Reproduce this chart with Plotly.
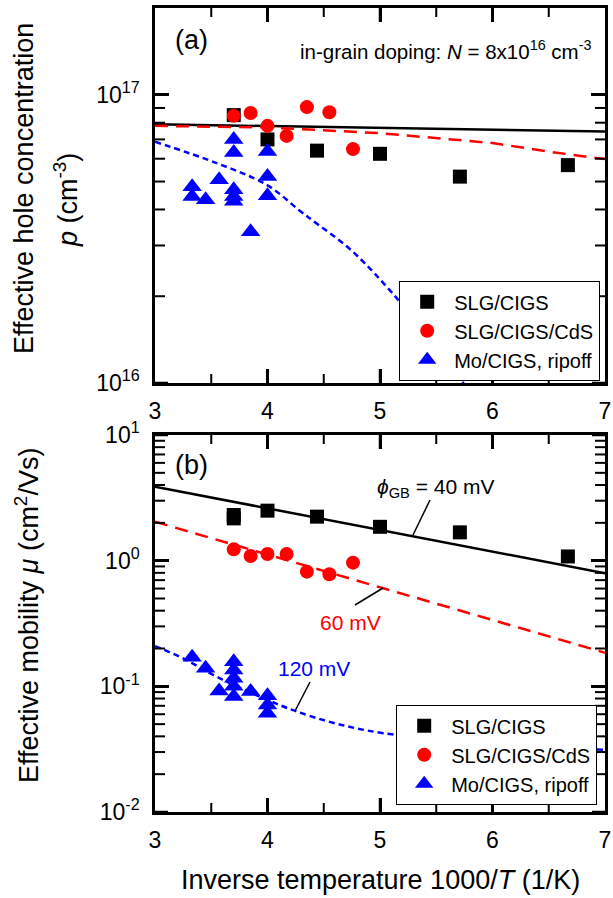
import plotly.graph_objects as go

# ---------------- data ----------------
# (a) effective hole concentration
a_slg_x = [3.70, 4.00, 4.44, 5.00, 5.71, 6.67]
a_slg_p = [8.5e16, 7.0e16, 6.4e16, 6.24e16, 5.2e16, 5.7e16]
a_cds_x = [3.70, 3.85, 4.00, 4.17, 4.35, 4.55, 4.76]
a_cds_p = [8.45e16, 8.64e16, 7.8e16, 7.2e16, 9.06e16, 8.7e16, 6.48e16]
a_mo_x = [3.33, 3.33, 3.45, 3.57, 3.70, 3.70, 3.70, 3.70, 3.70, 3.85, 4.00, 4.00, 4.00]
a_mo_p = [4.8e16, 4.44e16, 4.32e16, 5.07e16, 7.0e16, 6.3e16, 4.68e16, 4.44e16, 4.27e16, 3.35e16, 6.36e16, 5.2e16, 4.46e16]

a_fit_slg_x = [3.0, 5.0, 7.0]
a_fit_slg_p = [7.9e16, 7.68e16, 7.46e16]
a_fit_cds_x = [3.0, 4.0, 5.0, 6.0, 6.5, 7.0]
a_fit_cds_p = [7.8e16, 7.7e16, 7.36e16, 6.8e16, 6.35e16, 5.98e16]
a_fit_mo_x = [3.0, 3.55, 4.0, 4.29, 4.44, 4.73, 5.04, 5.6, 5.8]
a_fit_mo_p = [6.87e16, 5.79e16, 4.85e16, 3.95e16, 3.57e16, 2.92e16, 2.2e16, 1.2e16, 0.92e16]

# (b) effective mobility
b_slg_x = [3.70, 3.70, 4.00, 4.44, 5.00, 5.71, 6.67]
b_slg_mu = [2.31, 2.17, 2.50, 2.24, 1.86, 1.68, 1.08]
b_cds_x = [3.70, 3.85, 4.00, 4.17, 4.35, 4.55, 4.76]
b_cds_mu = [1.23, 1.09, 1.13, 1.13, 0.818, 0.78, 0.964]
b_mo_x = [3.33, 3.45, 3.57, 3.70, 3.70, 3.70, 3.70, 3.70, 3.85, 4.00, 4.00, 4.00]
b_mo_mu = [0.17, 0.139, 0.092, 0.157, 0.135, 0.116, 0.100, 0.083, 0.091, 0.084, 0.071, 0.061]

b_fit_slg_x = [3.0, 7.0]
b_fit_slg_mu = [3.88, 0.794]
b_fit_cds_x = [3.0, 7.0]
b_fit_cds_mu = [2.04, 0.185]
b_fit_mo_x = [3.0, 3.25, 3.55, 4.0, 4.24, 4.6, 5.03, 6.0, 7.0]
b_fit_mo_mu = [0.209, 0.167, 0.119, 0.078, 0.064, 0.0508, 0.0424, 0.0355, 0.0312]

series_names = ["SLG/CIGS", "SLG/CIGS/CdS", "Mo/CIGS, ripoff"]
x_ticks = [3, 4, 5, 6, 7]
x_minor = [3.5, 4.5, 5.5, 6.5]
a_ticks = [1e16, 1e17]
a_ticktext = ["10<sup>16</sup>", "10<sup>17</sup>"]
b_ticks = [1e-2, 1e-1, 1e0, 1e1]
b_ticktext = ["10<sup>-2</sup>", "10<sup>-1</sup>", "10<sup>0</sup>", "10<sup>1</sup>"]
a_minor = [k * 1e16 for k in range(2, 10)]
b_minor = [k * 10.0 ** d for d in (-2, -1, 0) for k in range(2, 10)]

# ---------------- layout helpers ----------------
W, H = 613, 898
L, R, T, B = 155, 605, 8, 812
PW, PH = R - L, B - T
A_TOP, A_BOT = 8, 383      # panel (a) frame, px
B_TOP, B_BOT = 435, 812    # panel (b) frame, px


def px(x):
    return (x - L) / PW


def py(y):
    return (B - y) / PH


FONT = "Liberation Sans, Arial, sans-serif"
BLACK, RED, BLUE = "#000000", "#ff0000", "#0000ff"

fig = go.Figure()

# fitted curves
fig.add_trace(go.Scatter(x=a_fit_slg_x, y=a_fit_slg_p, mode="lines", line=dict(color=BLACK, width=2.5),
                         xaxis="x", yaxis="y", showlegend=False, hoverinfo="skip"))
fig.add_trace(go.Scatter(x=a_fit_cds_x, y=a_fit_cds_p, mode="lines", line=dict(color=RED, width=2.5, dash="13px,8px"),
                         xaxis="x", yaxis="y", showlegend=False, hoverinfo="skip"))
fig.add_trace(go.Scatter(x=a_fit_mo_x, y=a_fit_mo_p, mode="lines", line=dict(color=BLUE, width=2.5, dash="6px,4px", shape="spline"),
                         xaxis="x", yaxis="y", showlegend=False, hoverinfo="skip"))
fig.add_trace(go.Scatter(x=b_fit_slg_x, y=b_fit_slg_mu, mode="lines", line=dict(color=BLACK, width=2.5),
                         xaxis="x2", yaxis="y2", showlegend=False, hoverinfo="skip"))
fig.add_trace(go.Scatter(x=b_fit_cds_x, y=b_fit_cds_mu, mode="lines", line=dict(color=RED, width=2.5, dash="13px,8px"),
                         xaxis="x2", yaxis="y2", showlegend=False, hoverinfo="skip"))
fig.add_trace(go.Scatter(x=b_fit_mo_x, y=b_fit_mo_mu, mode="lines", line=dict(color=BLUE, width=2.5, dash="6px,4px", shape="spline"),
                         xaxis="x2", yaxis="y2", showlegend=False, hoverinfo="skip"))

# data markers
mk_sq = dict(symbol="square", size=14, color=BLACK)
mk_ci = dict(symbol="circle", size=14, color=RED)
mk_tr = dict(symbol="triangle-up", size=17, color=BLUE)

for xs, ys, mk, nm in [(a_slg_x, a_slg_p, mk_sq, series_names[0]),
                       (a_cds_x, a_cds_p, mk_ci, series_names[1]),
                       (a_mo_x, a_mo_p, mk_tr, series_names[2])]:
    fig.add_trace(go.Scatter(x=xs, y=ys, mode="markers", marker=mk, name=nm,
                             xaxis="x", yaxis="y", legend="legend"))
for xs, ys, mk, nm in [(b_slg_x, b_slg_mu, mk_sq, series_names[0]),
                       (b_cds_x, b_cds_mu, mk_ci, series_names[1]),
                       (b_mo_x, b_mo_mu, mk_tr, series_names[2])]:
    fig.add_trace(go.Scatter(x=xs, y=ys, mode="markers", marker=mk, name=nm,
                             xaxis="x2", yaxis="y2", legend="legend2"))

base = dict(ticks="inside", ticklen=14, tickwidth=2.5, tickcolor=BLACK, automargin=False,
            showline=True, linewidth=2.5, linecolor=BLACK, mirror="ticks",
            showgrid=False, zeroline=False, tickfont=dict(size=23, family=FONT, color=BLACK))

fig.update_layout(
    template="none",
    width=W, height=H,
    margin=dict(l=L, r=W - R, t=T, b=H - B, pad=0, autoexpand=False),
    paper_bgcolor="white", plot_bgcolor="white",
    font=dict(family=FONT, color=BLACK),
    xaxis=dict(domain=[0, 1], anchor="y", range=[3, 7], tickvals=x_ticks, ticklabelstandoff=6, **base),
    yaxis=dict(domain=[py(A_BOT), 1], anchor="x", type="log", range=[16, 17.30103], tickvals=a_ticks,
               ticktext=a_ticktext, ticklabelstandoff=8, **base),
    xaxis2=dict(domain=[0, 1], anchor="y2", range=[3, 7], tickvals=x_ticks, ticklabelstandoff=6, **base),
    yaxis2=dict(domain=[0, py(B_TOP)], anchor="x2", type="log", range=[-2, 1], tickvals=b_ticks,
                ticktext=b_ticktext, ticklabelstandoff=8, **base),
    legend=dict(x=px(600), y=py(281), xanchor="right", yanchor="top", bgcolor="white",
                bordercolor=BLACK, borderwidth=1.2, font=dict(size=20, family=FONT, color=BLACK),
                itemwidth=44, tracegroupgap=0),
    legend2=dict(x=px(597), y=py(705), xanchor="right", yanchor="top", bgcolor="white",
                 bordercolor=BLACK, borderwidth=1.2, font=dict(size=20, family=FONT, color=BLACK),
                 itemwidth=44, tracegroupgap=0),
)

ann = []


def text(x, y, s, size, color=BLACK, angle=0, xanchor="center"):
    ann.append(dict(x=px(x), y=py(y), xref="paper", yref="paper", text=s, showarrow=False,
                    font=dict(size=size, family=FONT, color=color), textangle=angle,
                    xanchor=xanchor, yanchor="middle"))


text(191, 40, "(a)", 27)
text(191, 465, "(b)", 27)
text(593, 50, "in-grain doping: <i>N</i> = 8x10<sup>16</sup> cm<sup>-3</sup>", 20.5, xanchor="right")
text(436, 488, "<i>ϕ</i><sub>GB</sub> = 40 mV", 21)
text(350, 622, "60 mV", 21, RED)
text(314, 668, "120 mV", 21, BLUE)
text(24, 189, "Effective hole concentration", 27, angle=-90)
text(66, 200, "<i>p</i> (cm<sup>-3</sup>)", 27, angle=-90)
text(27, 616, "Effective mobility <i>μ</i> (cm<sup>2</sup>/Vs)", 27, angle=-90)
text(380, 880, "Inverse temperature 1000/<i>T</i> (1/K)", 27)
fig.update_layout(annotations=ann)

shapes = []
# leader lines
for (x0, y0, x1, y1) in [(413, 535, 430, 500), (383, 588, 355, 605), (295, 711, 310, 682)]:
    shapes.append(dict(type="line", xref="paper", yref="paper", x0=px(x0), y0=py(y0), x1=px(x1), y1=py(y1),
                       line=dict(color=BLACK, width=1.5)))


# inside tick marks on all four sides of each panel (x/y from the data axes, tick length in paper units)
def xtick(xa, top, bot, v, ln, w):
    for y0, y1 in ((bot, bot - ln), (top, top + ln)):
        shapes.append(dict(type="line", xref=xa, x0=v, x1=v, yref="paper", y0=py(y0), y1=py(y1),
                           line=dict(color=BLACK, width=w), layer="above"))


def ytick(ya, v, ln, w):
    for x0, x1 in ((L, L + ln), (R, R - ln)):
        shapes.append(dict(type="line", yref=ya, y0=v, y1=v, xref="paper", x0=px(x0), x1=px(x1),
                           line=dict(color=BLACK, width=w), layer="above"))


for xa, ya, top, bot, yt, ym in (("x", "y", A_TOP, A_BOT, a_ticks, a_minor),
                                 ("x2", "y2", B_TOP, B_BOT, b_ticks, b_minor)):
    for v in x_ticks[1:-1]:
        xtick(xa, top, bot, v, 14, 2.5)
    for v in x_minor:
        xtick(xa, top, bot, v, 9, 2)
    for v in yt:
        ytick(ya, v, 13, 2.5)
    for v in ym:
        ytick(ya, v, 10, 2)

fig.update_layout(shapes=shapes)

fig.write_html("out.html")
